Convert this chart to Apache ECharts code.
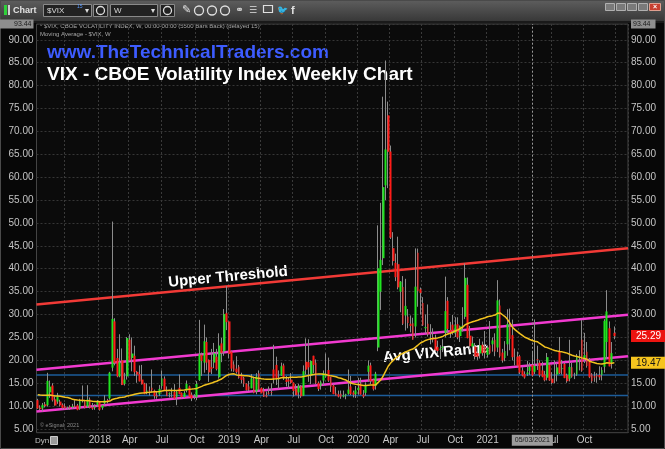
<!DOCTYPE html>
<html><head><meta charset="utf-8">
<script src="https://cdn.jsdelivr.net/npm/echarts@6/dist/echarts.min.js"></script>
<style>html,body{margin:0;padding:0;background:#0a0a0a;}#c{width:665px;height:449px;}</style>
</head><body><div id="c"></div>
<script>
// ---- categories: weekly bars (Monday dates) starting 2017-07-10, incl. 5 empty future slots
const firstWeekUTC = Date.UTC(2017, 6, 10);
const totalSlots = 238;
const monthNames = ['Jan','Feb','Mar','Apr','May','Jun','Jul','Aug','Sep','Oct','Nov','Dec'];
const labelFromDate = '2017-12-25', labelToDate = '2021-12-20';

// ---- weekly OHLC of $VIX (Jul 2017 - Dec 2021)
const open = [11.3,9.7,9.5,10.4,10.2,13.0,14.5,11.5,11.0,11.0,10.3,10.0,9.6,9.9,9.8,10.1,10.2,9.5,11.5,11.0,9.9,11.5,9.7,9.6,10.3,
10.9,9.6,10.6,11.3,11.7,18.4,28.5,20.5,16.5,20.0,14.9,16.5,24.5,20.5,21.0,17.5,17.0,15.8,14.9,13.0,13.4,14.0,13.4,12.3,12.6,14.4,16.0,13.2,12.7,13.0,13.1,12.0,14.0,12.9,12.0,13.4,14.3,12.5,12.1,12.0,15.7,21.2,19.5,24.0,20.1,18.5,19.5,20.8,16.3,23.7,22.0,30.3,
28.5,21.9,19.1,18.2,18.6,16.6,16.2,14.9,14.3,13.9,15.9,13.2,17.2,14.0,13.3,12.3,12.9,13.0,18.0,19.0,15.8,16.7,18.9,15.8,15.8,15.8,15.1,13.8,13.0,14.3,12.3,19.7,19.6,16.7,21.0,19.5,15.1,14.4,15.6,16.4,17.9,16.4,14.5,12.8,12.6,12.7,12.1,12.3,12.7,14.3,13.0,12.6,
13.5,14.9,12.5,12.9,17.5,18.9,15.7,14.4,22.8,35.0,42.3,58.2,73.5,65.6,44.5,41.3,41.0,35.0,36.0,29.8,29.5,28.0,28.1,27.4,43.5,35.5,32.5,27.0,28.0,25.9,25.1,24.8,22.9,22.3,22.7,26.0,33.0,26.6,27.8,26.0,27.9,25.3,27.4,29.5,36.5,25.4,23.0,23.0,21.6,21.5,23.4,23.0,21.2,
23.3,23.5,24.5,22.8,32.0,21.7,20.5,23.5,27.4,25.5,21.0,20.8,20.9,17.8,17.0,17.0,17.7,19.0,17.5,20.3,19.5,17.8,16.9,16.2,19.0,16.0,16.2,16.9,22.0,18.1,19.2,16.8,16.0,18.5,16.4,16.9,20.6,24.5,20.4,21.9,19.8,16.9,16.5,16.8,16.8,16.8,18.6,24.0,27.0,19.5,26.0];
const high = [11.6,10.2,10.7,10.9,17.28,15.6,15.0,12.1,12.9,11.4,10.6,10.6,9.9,10.2,10.5,11.3,10.5,11.6,14.51,11.3,14.58,11.9,10.7,10.4,11.3,
11.0,10.2,12.4,11.6,17.5,50.3,29.2,22.5,25.7,22.6,17.3,25.1,25.7,25.0,23.2,17.7,18.9,19.0,15.1,15.0,14.3,18.0,13.6,13.2,14.6,17.8,16.5,14.3,13.0,14.0,14.8,13.3,16.9,13.0,13.3,15.6,14.5,13.0,12.6,15.5,28.84,21.7,27.8,25.0,20.2,22.5,23.8,22.5,25.9,24.9,31.2,36.2,
28.5,22.1,19.8,20.9,19.0,17.3,16.4,15.0,15.5,17.0,16.4,17.2,17.8,14.1,14.0,13.2,14.3,15.0,23.4,20.8,17.8,19.5,19.3,16.6,16.3,17.2,15.2,14.8,14.9,14.6,18.9,24.8,24.6,20.0,21.0,20.2,15.4,15.6,17.8,21.5,20.6,16.4,14.8,14.2,13.4,13.4,13.4,12.7,18.0,16.6,13.4,14.4,
16.2,16.2,13.5,15.2,19.99,19.5,16.0,17.5,49.48,54.39,77.57,85.47,76.5,66.9,48.0,43.3,47.0,37.3,38.4,37.8,31.2,29.8,29.3,44.44,44.4,35.9,33.8,30.0,32.2,27.9,27.0,25.6,24.3,23.3,24.6,38.28,33.8,28.4,29.9,29.4,29.4,27.6,31.6,41.16,38.1,27.5,25.2,23.8,22.9,24.7,24.1,26.4,23.2,
28.6,25.0,25.9,37.51,33.3,22.5,24.2,31.16,31.3,28.9,22.6,21.9,21.2,18.5,17.6,19.9,19.5,22.0,28.93,23.2,20.0,19.7,17.7,21.6,19.3,17.4,20.0,19.3,25.1,20.1,19.5,17.1,24.5,19.5,17.3,21.4,22.2,28.79,26.0,24.0,20.5,17.2,17.5,17.2,18.7,18.5,28.99,35.32,28.5,24.0,27.4];
const low = [9.4,9.1,8.84,9.7,9.9,11.8,11.0,10.1,10.5,9.9,9.3,9.3,9.19,9.2,9.4,9.6,9.1,9.2,10.8,9.5,9.6,9.5,9.2,9.2,9.8,
9.0,9.2,10.1,10.6,11.4,17.6,18.9,16.3,16.3,14.6,14.5,15.8,19.9,17.6,16.6,15.1,15.4,14.7,12.6,12.6,12.3,13.0,11.6,11.6,12.2,13.8,13.3,12.2,11.9,11.9,11.6,10.2,12.6,11.7,11.8,13.0,12.1,11.1,11.5,11.3,15.5,16.6,17.3,17.9,15.3,17.0,18.3,17.8,16.0,19.6,21.0,26.6,
20.4,17.6,17.5,17.1,16.0,15.0,14.2,13.4,13.3,13.9,12.8,12.6,13.5,12.8,12.0,11.9,12.5,12.3,15.0,14.6,13.8,16.6,15.7,14.3,13.9,14.9,12.1,12.4,11.7,11.8,12.2,16.9,15.3,14.8,17.2,14.8,13.3,13.6,14.6,16.2,15.3,13.1,12.6,12.3,11.9,11.6,11.9,11.5,12.5,12.4,11.9,11.8,
12.5,12.5,11.75,12.3,15.3,14.8,13.4,13.6,22.0,31.0,40.8,55.0,57.6,46.5,40.7,37.3,35.5,30.5,27.7,26.5,27.0,26.1,24.5,25.0,31.7,30.0,27.5,25.9,25.2,23.5,23.9,22.1,21.2,20.3,21.8,25.0,25.9,24.9,25.6,25.1,24.6,24.0,26.3,29.0,24.8,22.4,21.7,20.2,20.1,20.4,21.0,20.4,20.6,
21.3,21.9,20.9,21.8,20.6,19.5,19.8,21.0,22.2,20.0,18.9,18.6,17.0,16.5,16.0,16.6,16.8,16.6,17.0,17.9,16.3,16.3,15.4,15.6,15.5,14.8,15.0,15.4,17.0,16.9,16.1,15.1,15.4,16.2,15.9,16.6,17.8,17.5,19.4,18.4,16.1,15.0,15.3,15.1,15.7,15.6,17.3,20.3,18.7,18.2,24.6];
const close = [9.51,9.36,10.29,10.03,15.51,14.26,11.28,10.13,12.12,10.17,9.59,9.51,9.65,9.61,9.97,9.80,9.14,11.29,11.43,9.67,11.43,9.58,9.42,9.90,11.04,
9.22,10.16,11.27,11.08,17.31,29.06,19.46,16.49,19.59,14.64,15.80,24.87,19.97,21.49,17.41,16.88,15.41,14.77,12.65,13.42,13.22,13.46,12.18,11.98,13.77,16.09,13.37,12.18,12.86,13.03,11.64,13.16,12.64,11.99,12.86,14.88,12.07,11.68,12.12,14.82,21.31,19.89,24.16,19.51,17.36,18.14,21.52,18.07,23.23,21.63,30.11,28.34,
21.38,18.19,17.80,17.42,16.14,15.72,14.91,13.51,13.57,16.05,12.88,16.48,13.71,12.82,12.01,12.09,12.73,12.87,16.04,15.96,15.85,18.71,16.30,15.28,15.40,15.08,13.28,12.39,14.45,12.16,17.61,17.97,18.47,19.87,18.98,15.00,13.74,15.32,17.22,17.04,15.58,14.25,12.65,12.30,12.07,12.05,12.34,12.62,13.62,12.63,12.51,13.43,
14.02,12.56,12.10,14.56,18.84,15.47,13.68,17.08,40.11,41.94,57.83,66.04,65.54,46.80,41.67,38.15,35.93,37.19,27.98,31.89,28.16,27.51,24.52,36.09,35.12,34.73,27.68,27.29,25.68,25.84,24.46,22.21,22.05,22.54,22.96,30.75,26.87,25.83,26.38,27.63,25.00,27.41,27.55,38.02,24.86,23.10,23.70,20.84,20.79,23.31,21.57,21.53,22.75,
21.56,24.34,21.91,33.09,20.87,19.97,22.05,27.95,24.66,20.69,20.95,18.86,17.33,16.69,16.25,17.33,18.61,16.69,18.81,20.15,16.76,16.42,15.65,20.70,15.62,15.07,16.18,18.45,17.20,18.24,16.15,15.45,18.56,16.39,16.41,20.95,20.81,17.75,21.15,18.77,16.30,15.43,16.26,16.48,16.29,17.91,28.62,30.67,18.69,21.57,25.29];
// 49 weekly closes before the first bar (Aug 2016 - Jul 2017), used for the 50-week moving average
const priorCloses = [11.39,11.55,11.34,13.65,11.98,17.50,15.37,12.29,13.29,13.48,16.12,13.34,16.19,22.51,14.17,12.85,12.34,14.12,11.75,12.20,11.44,14.04,
11.32,11.23,11.54,10.58,10.97,10.85,11.49,11.47,10.96,11.66,11.28,12.96,12.37,12.87,15.96,14.63,10.82,10.57,10.40,12.04,9.81,9.75,10.70,10.38,10.02,11.18,12.54];
const maPeriod = 50;

// ---- drawn trend lines [left edge value, right edge value]
const upperThreshold = [32.2, 44.5];
const avgRangeTop = [17.95, 29.95];
const avgRangeBottom = [8.84, 20.9];
const supportLevels = [16.8, 12.3];

// ---- axis / tag values
const yTicks = [5,10,15,20,25,30,35,40,45,50,55,60,65,70,75,80,85,90,93.44];
const rightTicks = [5,10,15,19.47,25.29,30,35,40,45,50,55,60,65,70,75,80,85,90,93.44];
const yMin = 4.2, yMax = 93.44;
const lastPriceTag = 25.29;
const maTag = 19.47;
const cursorDate = '2021-05-03';
const cursorLabel = '05/03/2021';

// ---------------------------------------------------------------
const DAY = 864e5;
const categories = [];
for (let i = 0; i < totalSlots; i++) categories.push(new Date(firstWeekUTC + i * 7 * DAY).toISOString().slice(0, 10));
function quarterLabel(i) {
  const d = new Date(firstWeekUTC + i * 7 * DAY), e = new Date(d.getTime() + 6 * DAY);
  let m = null, y;
  if (d.getUTCDate() === 1) { m = d.getUTCMonth(); y = d.getUTCFullYear(); }
  else if (e.getUTCMonth() !== d.getUTCMonth()) { m = e.getUTCMonth(); y = e.getUTCFullYear(); }
  if (m === null || m % 3 !== 0) return null;
  return m === 0 ? String(y) : monthNames[m];
}
function showLabel(i) {
  const c = categories[i];
  return quarterLabel(i) !== null && c >= labelFromDate && c <= labelToDate;
}
const allClose = priorCloses.concat(close);
const ma = close.map((_, i) => { let s = 0; for (let k = i; k < i + maPeriod; k++) s += allClose[k]; return +(s / maPeriod).toFixed(2); });
const candleData = close.map((c, i) => [open[i], c, low[i], high[i]]);
const bodyData = close.map((c, i) => [open[i], c, Math.min(open[i], c), Math.max(open[i], c)]);

const FONT = 'Liberation Sans, Arial, sans-serif';
const GREEN = '#1fe51f', RED = '#ff1c18', WICK = '#8c8c8c';

function seg(v, color, width) {
  return { type: 'line', xAxisIndex: 1, yAxisIndex: 0, data: [[0, v[0]], [1, v[1]]], symbol: 'none', silent: true,
    lineStyle: { color: color, width: width }, z: 3 };
}

const chart = echarts.init(document.getElementById('c'), null, { renderer: 'canvas' });
const boxStyle = { color: '#1c1c1c', fontSize: 7, fontFamily: FONT, backgroundColor: '#8e8e8e' };
const yLabLeft = {
  customValues: yTicks, color: '#c4c4c4', fontSize: 10, fontFamily: FONT, margin: 3,
  formatter: v => Math.abs(v - 93.44) < 1e-6 ? '{mx|93.44}' : v.toFixed(2),
  rich: { mx: Object.assign({ padding: [1, 2, 1, 15] }, boxStyle) }
};
const yLabRight = {
  customValues: rightTicks, color: '#c4c4c4', fontSize: 10, fontFamily: FONT, margin: 3,
  formatter: v => {
    if (Math.abs(v - 93.44) < 1e-6) return '{mx|93.44}';
    if (Math.abs(v - lastPriceTag) < 1e-6) return '{rd|' + lastPriceTag.toFixed(2) + '}';
    if (Math.abs(v - maTag) < 1e-6) return '{ye|' + maTag.toFixed(2) + '}';
    return v.toFixed(2);
  },
  rich: {
    mx: Object.assign({ padding: [1, 5, 1, 2] }, boxStyle),
    rd: { backgroundColor: '#ec1410', color: '#ffffff', fontSize: 10, fontFamily: FONT, padding: [1, 6, 1, 5] },
    ye: { backgroundColor: '#f6c51e', color: '#151515', fontSize: 10, fontFamily: FONT, padding: [1, 6, 1, 5] }
  }
};

const toolbar = [];
toolbar.push({ type: 'rect', shape: { x: 0, y: 0, width: 665, height: 21 },
  style: { fill: new echarts.graphic.LinearGradient(0, 0, 0, 1, [{ offset: 0, color: '#5e5e5e' }, { offset: 1, color: '#383838' }]) } });
toolbar.push({ type: 'rect', shape: { x: 0, y: 21, width: 665, height: 2 }, style: { fill: '#1a1a1a' } });
toolbar.push({ type: 'rect', shape: { x: 4, y: 5, width: 3, height: 10 }, style: { fill: '#2fcf3a' } });
toolbar.push({ type: 'rect', shape: { x: 8, y: 5, width: 2, height: 10 }, style: { fill: '#cfcfcf' } });
toolbar.push({ type: 'text', x: 13, y: 10.5, style: { text: 'Chart', fill: '#e2e2e2', font: 'bold 9px ' + FONT, textVerticalAlign: 'middle' } });
function box(x, w) { toolbar.push({ type: 'rect', shape: { x: x + 0.5, y: 4.5, width: w, height: 12 }, style: { fill: '#222', stroke: '#8a8a8a', lineWidth: 1 } }); }
box(43, 48); box(93, 14); box(110, 47); box(160, 14);
toolbar.push({ type: 'text', x: 47, y: 10.5, style: { text: '$VIX', fill: '#d8d8d8', font: '8px ' + FONT, textVerticalAlign: 'middle' } });
toolbar.push({ type: 'text', x: 77, y: 6.5, style: { text: '15', fill: '#5d9cff', font: '5px ' + FONT, textVerticalAlign: 'middle' } });
toolbar.push({ type: 'text', x: 85, y: 10.5, style: { text: '▾', fill: '#ddd', font: '8px DejaVu Sans', textVerticalAlign: 'middle' } });
toolbar.push({ type: 'text', x: 114, y: 10.5, style: { text: 'W', fill: '#d8d8d8', font: '8px ' + FONT, textVerticalAlign: 'middle' } });
toolbar.push({ type: 'text', x: 151, y: 10.5, style: { text: '▾', fill: '#ddd', font: '8px DejaVu Sans', textVerticalAlign: 'middle' } });
toolbar.push({ type: 'circle', shape: { cx: 100.5, cy: 10.5, r: 4 }, style: { fill: 'none', stroke: '#ddd', lineWidth: 1.3 } });
toolbar.push({ type: 'circle', shape: { cx: 167.5, cy: 10.5, r: 4 }, style: { fill: 'none', stroke: '#ddd', lineWidth: 1.3 } });
toolbar.push({ type: 'text', x: 182, y: 10.5, style: { text: '✎', fill: '#e0e0e0', font: '11px DejaVu Sans', textVerticalAlign: 'middle' } });
[199, 212, 225].forEach(cx => toolbar.push({ type: 'circle', shape: { cx: cx, cy: 10.5, r: 4.5 }, style: { fill: 'none', stroke: '#e0e0e0', lineWidth: 1.3 } }));
toolbar.push({ type: 'text', x: 235, y: 10.5, style: { text: '⚭', fill: '#e0e0e0', font: '10px DejaVu Sans', textVerticalAlign: 'middle' } });
toolbar.push({ type: 'text', x: 249, y: 10.5, style: { text: '☰', fill: '#e0e0e0', font: '9px DejaVu Sans', textVerticalAlign: 'middle' } });
toolbar.push({ type: 'rect', shape: { x: 263.5, y: 5.5, width: 9, height: 7 }, style: { fill: 'none', stroke: '#e0e0e0', lineWidth: 1.2 } });
toolbar.push({ type: 'text', x: 277, y: 10.5, style: { text: '🐦', fill: '#e0e0e0', font: '9px DejaVu Sans', textVerticalAlign: 'middle' } });
toolbar.push({ type: 'text', x: 291, y: 10.5, style: { text: 'f', fill: '#e0e0e0', font: 'bold 11px ' + FONT, textVerticalAlign: 'middle' } });
[605, 616, 627, 638].forEach(x => toolbar.push({ type: 'rect', shape: { x: x + 0.5, y: 3.5, width: 9, height: 7 }, style: { fill: '#7a7a7a', stroke: '#b0b0b0', lineWidth: 1 } }));
toolbar.push({ type: 'rect', shape: { x: 649.5, y: 3.5, width: 11, height: 7 }, style: { fill: '#c84030', stroke: '#e0a090', lineWidth: 1 } });
toolbar.push({ type: 'text', x: 655, y: 7.5, style: { text: '×', fill: '#fff', font: 'bold 7px ' + FONT, textAlign: 'center', textVerticalAlign: 'middle' } });

const texts = [
  { type: 'text', x: 40, y: 26, style: { text: '* $VIX, CBOE VOLATILITY INDEX, W, 00:00-00:00 (5500 Bars Back) (delayed 15)', fill: '#a8a8a8', font: '6px ' + FONT, textVerticalAlign: 'middle' } },
  { type: 'text', x: 40, y: 34, style: { text: 'Moving Average - $VIX, W', fill: '#a8a8a8', font: '6px ' + FONT, textVerticalAlign: 'middle' } },
  { type: 'text', x: 47, y: 53, style: { text: 'www.TheTechnicalTraders.com', fill: '#3d5cff', font: 'bold 19px ' + FONT, textVerticalAlign: 'middle' } },
  { type: 'text', x: 47, y: 75, style: { text: 'VIX - CBOE Volatility Index Weekly Chart', fill: '#ffffff', font: 'bold 19px ' + FONT, textVerticalAlign: 'middle' } },
  { type: 'text', x: 228, y: 277, rotation: 5.3 * Math.PI / 180, style: { text: 'Upper Threshold', fill: '#ffffff', font: 'bold 15px ' + FONT, textAlign: 'center', textVerticalAlign: 'middle' } },
  { type: 'text', x: 436, y: 353, rotation: 5.3 * Math.PI / 180, style: { text: 'Avg VIX Range', fill: '#ffffff', font: 'bold 15px ' + FONT, textAlign: 'center', textVerticalAlign: 'middle' } },
  { type: 'text', x: 40, y: 425, style: { text: '© eSignal, 2021', fill: '#8a8a8a', font: '5.5px ' + FONT, textVerticalAlign: 'middle' } },
  { type: 'text', x: 35, y: 441, style: { text: 'Dyn', fill: '#c0c0c0', font: '8px ' + FONT, textVerticalAlign: 'middle' } },
  { type: 'rect', shape: { x: 50.5, y: 436.5, width: 7, height: 8 }, style: { fill: '#9a9a9a', stroke: '#ccc', lineWidth: 1 } },
  { type: 'rect', shape: { x: 0.5, y: 0.5, width: 664, height: 448 }, style: { fill: 'none', stroke: '#4a4a4a', lineWidth: 1 } }
];

chart.setOption({
  animation: false,
  backgroundColor: '#070707',
  grid: { left: 36.5, right: 37, top: 24, bottom: 16.3, outerBoundsMode: 'none', containLabel: false,
    show: true, backgroundColor: '#0b0b0b', borderColor: '#444', borderWidth: 1 },
  xAxis: [
    { type: 'category', data: categories, boundaryGap: true,
      axisLine: { show: true, lineStyle: { color: '#3a3a3a' } }, axisTick: { show: false },
      axisLabel: { interval: (i) => showLabel(i), formatter: (v, i) => quarterLabel(i) || '', color: '#c8c8c8', fontSize: 10, fontFamily: FONT, margin: 3 },
      splitLine: { show: true, interval: (i) => quarterLabel(i) !== null, lineStyle: { color: '#3a3a3a', type: [2, 2], width: 1 } } },
    { type: 'value', min: 0, max: 1, show: false }
  ],
  yAxis: [
    { type: 'value', position: 'left', min: yMin, max: yMax,
      axisLine: { show: false }, axisTick: { show: false, customValues: yTicks },
      axisLabel: yLabLeft,
      splitLine: { show: true, lineStyle: { color: '#363636', type: [2, 2], width: 1 } } },
    { type: 'value', position: 'right', min: yMin, max: yMax,
      axisLine: { show: false }, axisTick: { show: false, customValues: rightTicks },
      axisLabel: yLabRight, splitLine: { show: false } }
  ],
  graphic: { elements: toolbar.concat(texts) },
  series: [
    seg(supportLevels.map(() => supportLevels[0]), '#1d5d9a', 1.5),
    seg(supportLevels.map(() => supportLevels[1]), '#1d5d9a', 1.5),
    { type: 'candlestick', name: 'wick', data: candleData, barWidth: 1, z: 4, silent: true,
      itemStyle: { color: WICK, color0: WICK, borderColor: WICK, borderColor0: WICK, borderColorDoji: WICK, borderWidth: 1 } },
    { type: 'candlestick', name: '$VIX', data: bodyData, barWidth: 2.3, z: 5, silent: true,
      itemStyle: { color: GREEN, color0: RED, borderColor: GREEN, borderColor0: RED, borderColorDoji: RED, borderWidth: 0 },
      markLine: { symbol: 'none', silent: true, animation: false,
        data: [
          { xAxis: cursorDate, lineStyle: { color: '#9a9a9a', type: [2, 2], width: 1 },
            label: { show: true, position: 'start', formatter: cursorLabel, backgroundColor: '#9c9c9c', color: '#1a1a1a', fontSize: 7, fontFamily: FONT, padding: [2, 3], distance: 2 } }
        ] } },
    { type: 'line', name: 'MA', data: ma, showSymbol: false, symbol: 'none', z: 6, silent: true,
      lineStyle: { color: '#f2c21f', width: 1.5 } },
    seg(upperThreshold, '#f23a36', 2.5),
    seg(avgRangeTop, '#f23ad0', 2.5),
    seg(avgRangeBottom, '#f23ad0', 2.5)
  ]
});
</script></body></html>
